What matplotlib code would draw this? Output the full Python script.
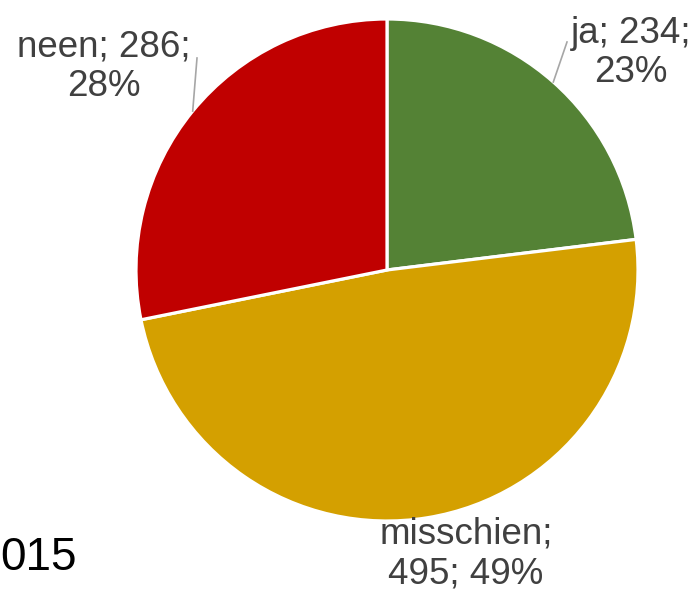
import numpy as np
import matplotlib
matplotlib.use("Agg")
import matplotlib.pyplot as plt

plt.rcParams['font.family'] = ['Liberation Sans', 'DejaVu Sans']

categories = ['ja', 'misschien', 'neen']
counts = [234, 495, 286]
percents = [23, 49, 28]
colors = ['#548235', '#D4A000', '#C00000']

# layout (pixel coords, origin bottom-left)
W, H = 699, 592
center = (387, H - 270)
radius = 251
label_pos = {'ja': (631, H - 53), 'misschien': (466, H - 554), 'neen': (104, H - 67)}
leader_end = {'ja': (567, H - 42), 'neen': (197, H - 58)}

fig = plt.figure(figsize=(W / 100, H / 100), dpi=100)
ax = fig.add_axes([0, 0, 1, 1])

wedges, _ = ax.pie(counts, colors=colors, startangle=90, counterclock=False,
                   center=center, radius=radius,
                   wedgeprops=dict(edgecolor='white', linewidth=2.3))
# pie() resets the limits, so set them afterwards
ax.set_xlim(0, W)
ax.set_ylim(0, H)
ax.set_aspect('equal')
ax.axis('off')

labels = {
    'ja': f"ja; {counts[0]};\n{percents[0]}%",
    'misschien': f"misschien;\n{counts[1]}; {percents[1]}%",
    'neen': f"neen; {counts[2]};\n{percents[2]}%",
}

for w, cat in zip(wedges, categories):
    x, y = label_pos[cat]
    ax.text(x, y, labels[cat], ha='center', va='center', fontsize=26.5,
            color='#404040', linespacing=1.18)
    if cat in leader_end:
        mid = np.deg2rad((w.theta1 + w.theta2) / 2)
        sx = center[0] + radius * np.cos(mid)
        sy = center[1] + radius * np.sin(mid)
        ex, ey = leader_end[cat]
        ax.plot([sx, ex], [sy, ey], color='#A6A6A6', linewidth=1.2)

ax.text(0, H - 558, '015', ha='left', va='center', fontsize=33, color='black')

fig.savefig('out.png', dpi=100)
